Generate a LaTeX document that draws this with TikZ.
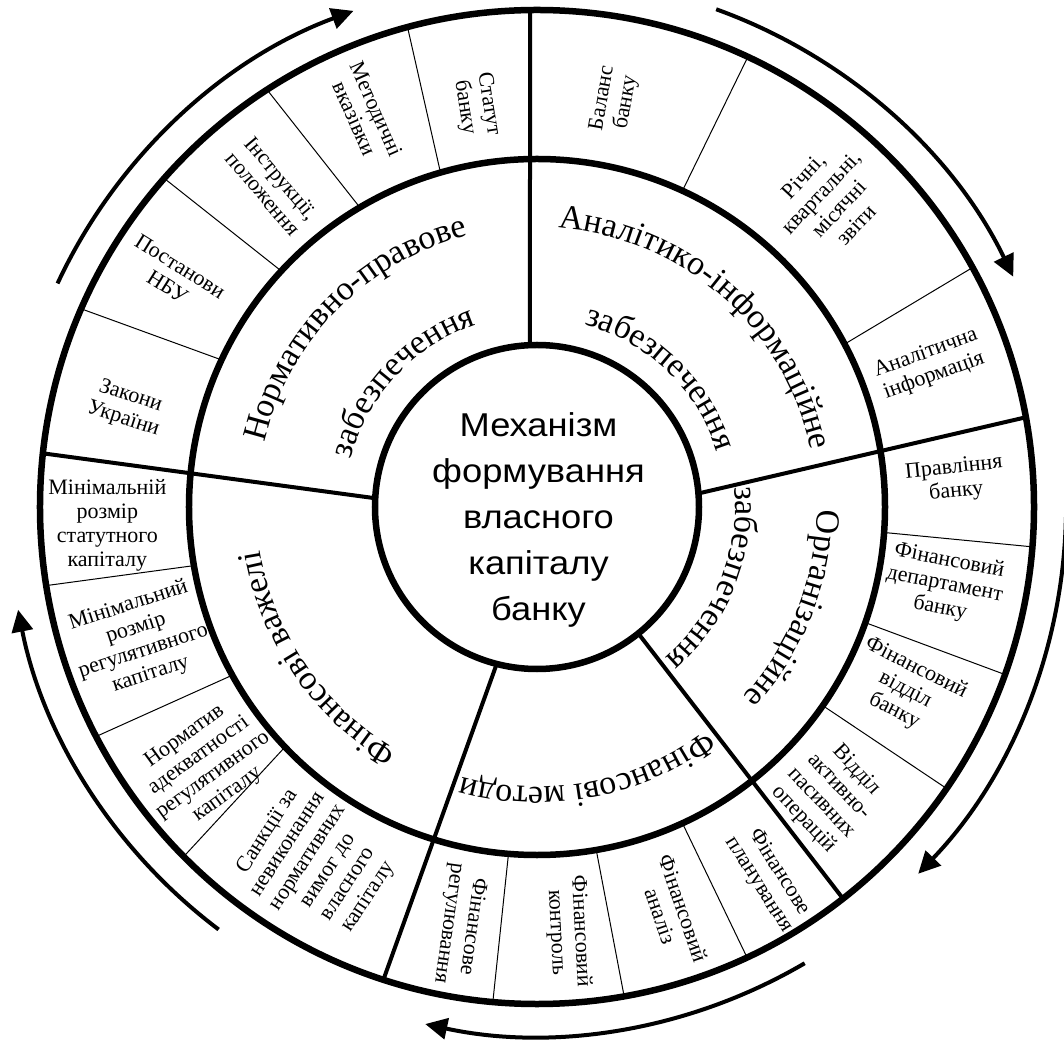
\documentclass[tikz,border=0pt]{standalone}
\usepackage{fontspec}
\setmainfont{Liberation Serif}
\newfontfamily\centrefont[FakeStretch=1.1]{Liberation Sans}
\usetikzlibrary{decorations.text,arrows.meta}
\newcommand\ringfont{\fontsize{34}{40}\selectfont}

\begin{document}
\begin{tikzpicture}[x=1pt, y=1pt,
    cell/.style={align=center, inner sep=0pt, font=\fontsize{22}{24}\selectfont},
    ringtext/.style={decorate, decoration={text along path, text align=center, text={#1}}},
    flow/.style={line width=4pt, -{Triangle[length=22pt, width=21pt]}}]
    \useasboundingbox (-537,-541) rectangle (527,507);

    % rings
    \draw[line width=6.5pt] (0,0) circle[radius=497];
    \draw[line width=6.5pt] (0,0) circle[radius=348];
    \draw[line width=6.5pt] (0,0) circle[radius=162];

    % sectors
    \foreach \a/\b in {92.5/90.8, 176.9/173.8, 4.8/10.4, -51.3/-52, -104.4/-108}
      \draw[line width=4pt] (\a:162) -- (\b:497);
    \foreach \a/\b in {106.1/105.1, 120.6/122.9, 137.3/138.6, 155/156.5,
                       65.3/64.9, 27.9/28.8,
                       -4.2/-4.6, -19.4/-19.7, -34.8/-34.5,
                       -65.3/-65, -80.2/-79.9, -94.7/-95.1,
                       189.7/189.1, 208.9/207.5, 223.6/224.7}
      \draw[line width=1pt] (\a:348) -- (\b:497);

    % centre
    \node[align=center, inner sep=0pt, font=\centrefont\fontsize{33}{46}\selectfont] (centre) at (1.5,-13)
      {Механізм\\формування\\власного\\капіталу\\банку};

    % middle ring
    \path[ringtext={|\ringfont|Нормативно-правове}] (177:280) arc[start angle=177, end angle=94, radius=280];
    \path[ringtext={|\ringfont|забезпечення}] (179:192) arc[start angle=179, end angle=95, radius=192];
    \path[ringtext={|\ringfont|Аналітико-інформаційне}] (95:280) arc[start angle=95, end angle=2.2, radius=280];
    \path[ringtext={|\ringfont|забезпечення}] (90:188) arc[start angle=90, end angle=2.6, radius=188];
    \path[ringtext={|\ringfont|Організаційне}] (20:280) arc[start angle=20, end angle=-63.2, radius=280];
    \path[ringtext={|\ringfont|забезпечення}] (20:198) arc[start angle=20, end angle=-64, radius=198];
    \path[ringtext={|\ringfont|Фінансові методи}] (-35:280) arc[start angle=-35, end angle=-123.4, radius=280];
    \path[ringtext={|\ringfont|Фінансові важелі}] (258:280) arc[start angle=258, end angle=171, radius=280];

    % outer ring
    \node[cell, rotate=-81] (statut) at (98.6:406) {Статут\\банку};
    \node[cell, rotate=-66] (metod) at (113.6:429) {Методичні\\вказівки};
    \node[cell, rotate=-50] (instr) at (129.5:416) {Інструкції,\\положення};
    \node[cell, rotate=-32] (postan) at (147.6:430) {Постанови\\НБУ};
    \node[cell, rotate=-18] (zakony) at (166.4:422) {Закони\\України};

    \node[cell, rotate=80] (balans) at (79.2:414) {Баланс\\банку};
    \node[cell, rotate=47] (zvity) at (46.3:424) {Річні,\\квартальні,\\місячні\\звіти};
    \node[cell, rotate=20] (analit) at (19.9:418) {Аналітична\\інформація};

    \node[cell, rotate=6] (pravl) at (3.7:419) {Правління\\банку};
    \node[cell, rotate=-11] (depart) at (-10.8:415) {Фінансовий\\департамент\\банку};
    \node[cell, rotate=-27] (viddil) at (-26.4:411) {Фінансовий\\відділ\\банку};
    \node[cell, rotate=-47] (aktiv) at (-44.5:411) {Відділ\\активно-\\пасивних\\операцій};

    \node[cell, rotate=-58] (plan) at (-58:438) {Фінансове\\планування};
    \node[cell, rotate=-71] (analiz) at (-71.6:427) {Фінансовий\\аналіз};
    \node[cell, rotate=-87] (kontrol) at (-85.8:426) {Фінансовий\\контроль};
    \node[cell, rotate=-98] (regul) at (-100.4:425) {Фінансове\\регулювання};

    \node[cell, rotate=0] (statkap) at (182.4:430) {Мінімальній\\розмір\\статутного\\капіталу};
    \node[cell, rotate=18] (regkap) at (198.5:419) {Мінімальний\\розмір\\регулятивного\\капіталу};
    \node[cell, rotate=36] (normat) at (218:420) {Норматив\\адекватності\\регулятивного\\капіталу};
    \node[cell, rotate=57] (sankc) at (238.5:419) {Санкції за\\невиконання\\нормативних\\вимог до\\власного\\капіталу};

    % arrows
    \foreach \s/\e in {155/110.3, 70.2/25.8, -1.1/-43.9, -59.6/-102.2, 233/191.2}
      \draw[flow] (\s:529) arc[start angle=\s, end angle=\e, radius=529];
\end{tikzpicture}
\end{document}
